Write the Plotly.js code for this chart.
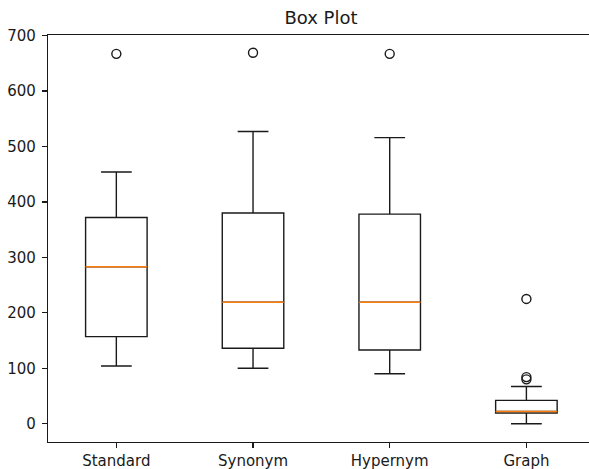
<!DOCTYPE html>
<html>
<head>
<meta charset="utf-8">
<script src="https://cdn.plot.ly/plotly-3.0.1.min.js"></script>
<style>html,body{margin:0;padding:0;background:#fff;}</style>
</head>
<body>
<div id="chart" style="width:589px;height:469px;"></div>
<script>
const categories = ["Standard", "Synonym", "Hypernym", "Graph"];
const lowerWhisker = [104, 100, 90, 0];
const q1Values = [157, 136, 133, 19];
const medianValues = [283, 219, 219, 22];
const q3Values = [372, 380, 378, 42];
const upperWhisker = [454, 527, 516, 67];
const outlierCats = ["Standard", "Synonym", "Hypernym", "Graph", "Graph", "Graph"];
const outlierValues = [667, 669, 667, 225, 80, 84];

const boxTrace = {
  type: "box",
  x: categories,
  q1: q1Values,
  median: medianValues,
  q3: q3Values,
  lowerfence: lowerWhisker,
  upperfence: upperWhisker,
  width: 0.45,
  whiskerwidth: 0.5,
  fillcolor: "rgba(0,0,0,0)",
  line: {color: "#1a1a1a", width: 1.4},
  boxpoints: false,
  hoverinfo: "skip",
  showlegend: false
};

const medianTrace = {
  type: "box",
  x: categories,
  q1: medianValues,
  median: medianValues,
  q3: medianValues,
  lowerfence: medianValues,
  upperfence: medianValues,
  width: 0.45,
  whiskerwidth: 0,
  fillcolor: "rgba(0,0,0,0)",
  line: {color: "#ff7f0e", width: 1.4},
  boxpoints: false,
  hoverinfo: "skip",
  showlegend: false
};

const outlierTrace = {
  type: "scatter",
  mode: "markers",
  x: outlierCats,
  y: outlierValues,
  marker: {symbol: "circle-open", size: 9, color: "#1a1a1a", line: {width: 1.4, color: "#1a1a1a"}},
  hoverinfo: "skip",
  showlegend: false
};

const layout = {
  width: 589,
  height: 469,
  margin: {l: 48, r: 0, t: 35, b: 27},
  paper_bgcolor: "#ffffff",
  plot_bgcolor: "#ffffff",
  font: {family: "DejaVu Sans", size: 15, color: "#1a1a1a"},
  title: {text: "Box Plot", font: {family: "DejaVu Sans", size: 18, color: "#1a1a1a"}, xref: "paper", x: 0.5046, xanchor: "center", yref: "container", y: 0.962, yanchor: "middle"},
  boxmode: "overlay",
  xaxis: {
    type: "category",
    categoryorder: "array",
    categoryarray: categories,
    range: [-0.5, 3.458],
    showgrid: false,
    zeroline: false,
    showline: true,
    linecolor: "#1a1a1a",
    linewidth: 1.2,
    mirror: true,
    ticks: "outside",
    ticklen: 5,
    tickwidth: 1.2,
    tickcolor: "#1a1a1a",
    tickfont: {family: "DejaVu Sans", size: 15, color: "#1a1a1a"},
    fixedrange: true
  },
  yaxis: {
    range: [-33, 701],
    dtick: 100,
    tick0: 0,
    showgrid: false,
    zeroline: false,
    showline: true,
    linecolor: "#1a1a1a",
    linewidth: 1.2,
    ticks: "outside",
    ticklen: 5,
    tickwidth: 1.2,
    tickcolor: "#1a1a1a",
    ticklabelstandoff: 3,
    tickfont: {family: "DejaVu Sans", size: 15, color: "#1a1a1a"},
    fixedrange: true
  }
};

Plotly.newPlot("chart", [boxTrace, medianTrace, outlierTrace], layout, {displayModeBar: false, staticPlot: true});
</script>
</body>
</html>
